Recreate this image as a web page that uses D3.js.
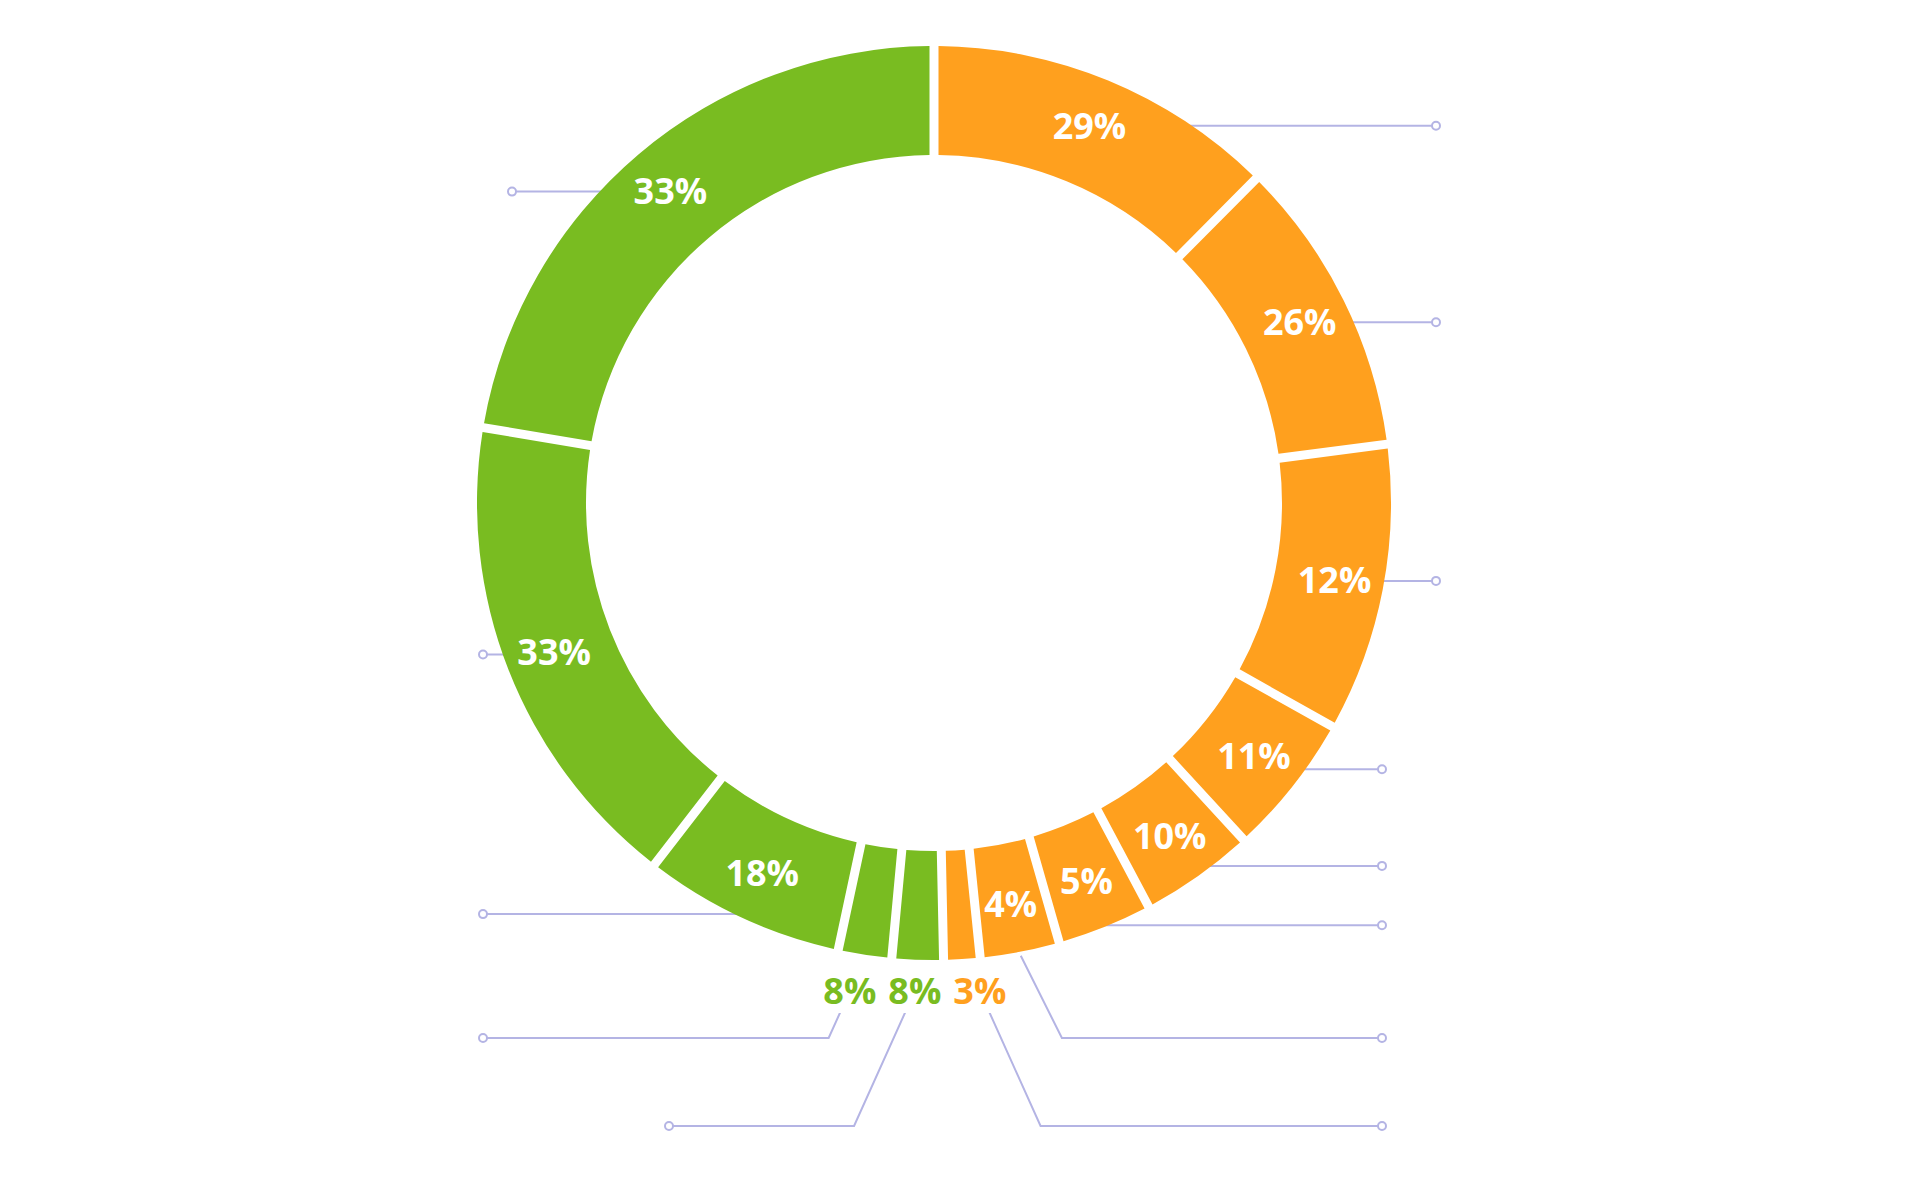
<!DOCTYPE html>
<html>
<head>
<meta charset="utf-8">
<script src="https://cdn.jsdelivr.net/npm/d3@7"></script>
<style>
  body { margin: 0; background: #fff; }
  text { font-family: "Open Sans", sans-serif; font-weight: 700; }
</style>
</head>
<body>
<div id="chart"></div>
<script>
// data (clockwise from 12 o'clock)
var orangeValues = [448, 378, 367, 181, 146, 121, 101, 46];
var orangeLabels = ["29%", "26%", "12%", "11%", "10%", "5%", "4%", "3%"];
var greenValues = [65, 68, 256, 618, 805];
var greenLabels = ["8%", "8%", "18%", "33%", "33%"];

// settings
var width = 1920, height = 1200,
    cx = 934, cy = 503,
    rOuter = 457, rInner = 348;

var orange = "#ffa01e", green = "#79bc21", lineColor = "#b4b4e4";

var slices = [];
orangeValues.forEach(function (v, i) { slices.push({value: v, label: orangeLabels[i], color: orange}); });
greenValues.forEach(function (v, i) { slices.push({value: v, label: greenLabels[i], color: green}); });

var svg = d3.select("#chart")
    .append("svg")
    .attr("width", width)
    .attr("height", height);

var g = svg.append("g");

var pie = d3.pie().sort(null).value(function (d) { return d.value; });
var arcs = pie(slices);

var arc = d3.arc()
    .innerRadius(rInner)
    .outerRadius(rOuter)
    .padAngle(9 / rOuter)
    .padRadius(rOuter);

function polar(a, r) { return [cx + r * Math.sin(a), cy - r * Math.cos(a)]; }

arcs.forEach(function (d) {
    d.mid = (d.startAngle + d.endAngle) / 2;
    d.outside = (d.endAngle - d.startAngle) < 8 * Math.PI / 180;
    d.side = d.mid < Math.PI ? 1 : -1;
});

// small slices: labels in one row under the ring, centred on their slices
var rowY = cy + rOuter + 31, step = 65;
var outs = arcs.filter(function (d) { return d.outside; })
    .sort(function (a, b) { return a.mid - b.mid; });
var meanX = d3.mean(outs, function (d) { return cx + rOuter * Math.sin(d.mid); });
outs.forEach(function (d, i) {
    d.lx = meanX + ((outs.length - 1) / 2 - i) * step;
    d.ly = rowY;
});

arcs.filter(function (d) { return !d.outside; }).forEach(function (d) {
    var p = polar(d.mid, 408);
    d.lx = p[0]; d.ly = p[1];
});

// leader lines: level follows the slice, bottom slices get stacked under the ring
function lineRadius(a) {
    var c = Math.max(0, -Math.cos(a));
    return 408 + 55 * c * c;
}
arcs.forEach(function (d) {
    d.levelY = cy - lineRadius(d.mid) * Math.cos(d.mid);
    d.bottom = d.levelY - cy > 0.95 * rOuter;
});
[1, -1].forEach(function (side) {
    arcs.filter(function (d) { return d.bottom && d.side === side; })
        .sort(function (a, b) { return Math.abs(b.mid - Math.PI) - Math.abs(a.mid - Math.PI); })
        .forEach(function (d, i) { d.levelY = cy + rOuter + 78 + i * 88; });
});

arcs.forEach(function (d) {
    var y = d.levelY, start, elbow, endX;
    if (d.outside) {
        start = [d.lx, d.ly];
        elbow = [start[0] + d.side * 0.45 * (y - start[1]), y];
    } else if (d.bottom) {
        start = polar(d.mid, rOuter + 4);
        elbow = [start[0] + d.side * 0.5 * (y - start[1]), y];
    } else {
        start = [polar(d.mid, lineRadius(d.mid))[0], y];
        elbow = start;
    }
    if (d.side > 0) {
        endX = y < cy + 0.4 * rOuter ? cx + 502 : cx + 448;
    } else {
        endX = y > cy + rOuter + 120 ? cx - 265 : (y < cy - 0.4 * rOuter ? cx - 422 : cx - 451);
    }
    d.linePts = [start, elbow, [endX, y]];
});

// lines first, the ring covers their inner ends
g.append("g")
    .selectAll("path")
    .data(arcs)
    .enter()
    .append("path")
    .attr("d", function (d) { return d3.line()(d.linePts); })
    .attr("fill", "none")
    .attr("stroke", lineColor)
    .attr("stroke-width", 2);

g.append("g")
    .selectAll("circle")
    .data(arcs)
    .enter()
    .append("circle")
    .attr("cx", function (d) { return d.linePts[2][0]; })
    .attr("cy", function (d) { return d.linePts[2][1]; })
    .attr("r", 4)
    .attr("fill", "#fff")
    .attr("stroke", lineColor)
    .attr("stroke-width", 2);

g.append("g")
    .attr("transform", "translate(" + cx + "," + cy + ")")
    .selectAll("path")
    .data(arcs)
    .enter()
    .append("path")
    .attr("d", arc)
    .attr("fill", function (d) { return d.data.color; });

// white boxes behind the outside labels
g.append("g")
    .selectAll("rect")
    .data(outs)
    .enter()
    .append("rect")
    .attr("x", function (d) { return d.lx - 31; })
    .attr("y", function (d) { return d.ly - 24; })
    .attr("width", 62)
    .attr("height", 46)
    .attr("fill", "#fff");

g.append("g")
    .selectAll("text")
    .data(arcs)
    .enter()
    .append("text")
    .attr("x", function (d) { return d.lx; })
    .attr("y", function (d) { return d.ly; })
    .attr("dy", "0.357em")
    .attr("text-anchor", "middle")
    .attr("font-size", 36)
    .attr("fill", function (d) { return d.outside ? d.data.color : "#fff"; })
    .text(function (d) { return d.data.label; });
</script>
</body>
</html>
